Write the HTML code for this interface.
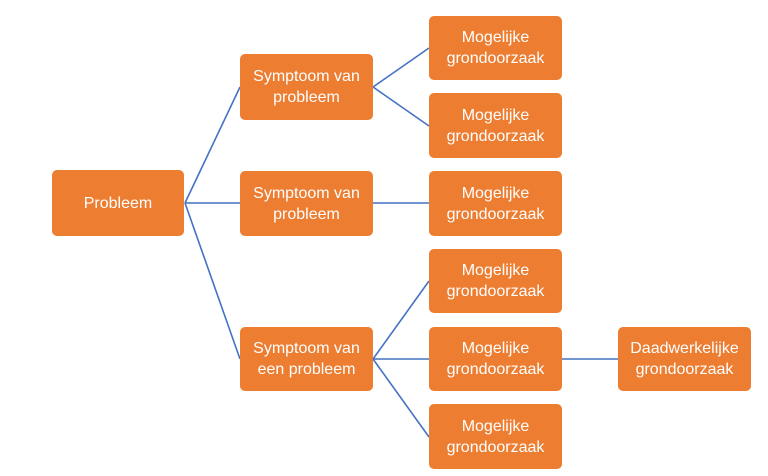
<!DOCTYPE html>
<html><head><meta charset="utf-8"><style>
body{margin:0;width:768px;height:476px;background:#fff;position:relative;overflow:hidden;font-family:"Liberation Sans",sans-serif}
.b{position:absolute;background:#ED7D31;border-radius:5px;color:#fff;font-size:16px;line-height:21px;display:flex;align-items:center;justify-content:center;text-align:center}
svg{position:absolute;left:0;top:0}
</style></head><body>
<svg width="768" height="476"><g stroke="#4472C4" stroke-width="1.6" fill="none">
<path d="M185 203L240 87M185 203L240 203M185 203L240 359"/>
<path d="M373 87L429 48M373 87L429 126M373 203L429 203"/>
<path d="M373 359L429 281M373 359L429 359M373 359L429 437M562 359L618 359"/>
</g></svg>
<div class="b" style="left:52px;top:170px;width:132px;height:66px">Probleem</div>
<div class="b" style="left:240px;top:54px;width:133px;height:66px">Symptoom van<br>probleem</div>
<div class="b" style="left:240px;top:171px;width:133px;height:65px">Symptoom van<br>probleem</div>
<div class="b" style="left:240px;top:327px;width:133px;height:64px">Symptoom van<br>een probleem</div>
<div class="b" style="left:429px;top:16px;width:133px;height:64px">Mogelijke<br>grondoorzaak</div>
<div class="b" style="left:429px;top:93px;width:133px;height:65px">Mogelijke<br>grondoorzaak</div>
<div class="b" style="left:429px;top:171px;width:133px;height:65px">Mogelijke<br>grondoorzaak</div>
<div class="b" style="left:429px;top:249px;width:133px;height:64px">Mogelijke<br>grondoorzaak</div>
<div class="b" style="left:429px;top:327px;width:133px;height:64px">Mogelijke<br>grondoorzaak</div>
<div class="b" style="left:429px;top:404px;width:133px;height:65px">Mogelijke<br>grondoorzaak</div>
<div class="b" style="left:618px;top:327px;width:133px;height:64px">Daadwerkelijke<br>grondoorzaak</div>
</body></html>
